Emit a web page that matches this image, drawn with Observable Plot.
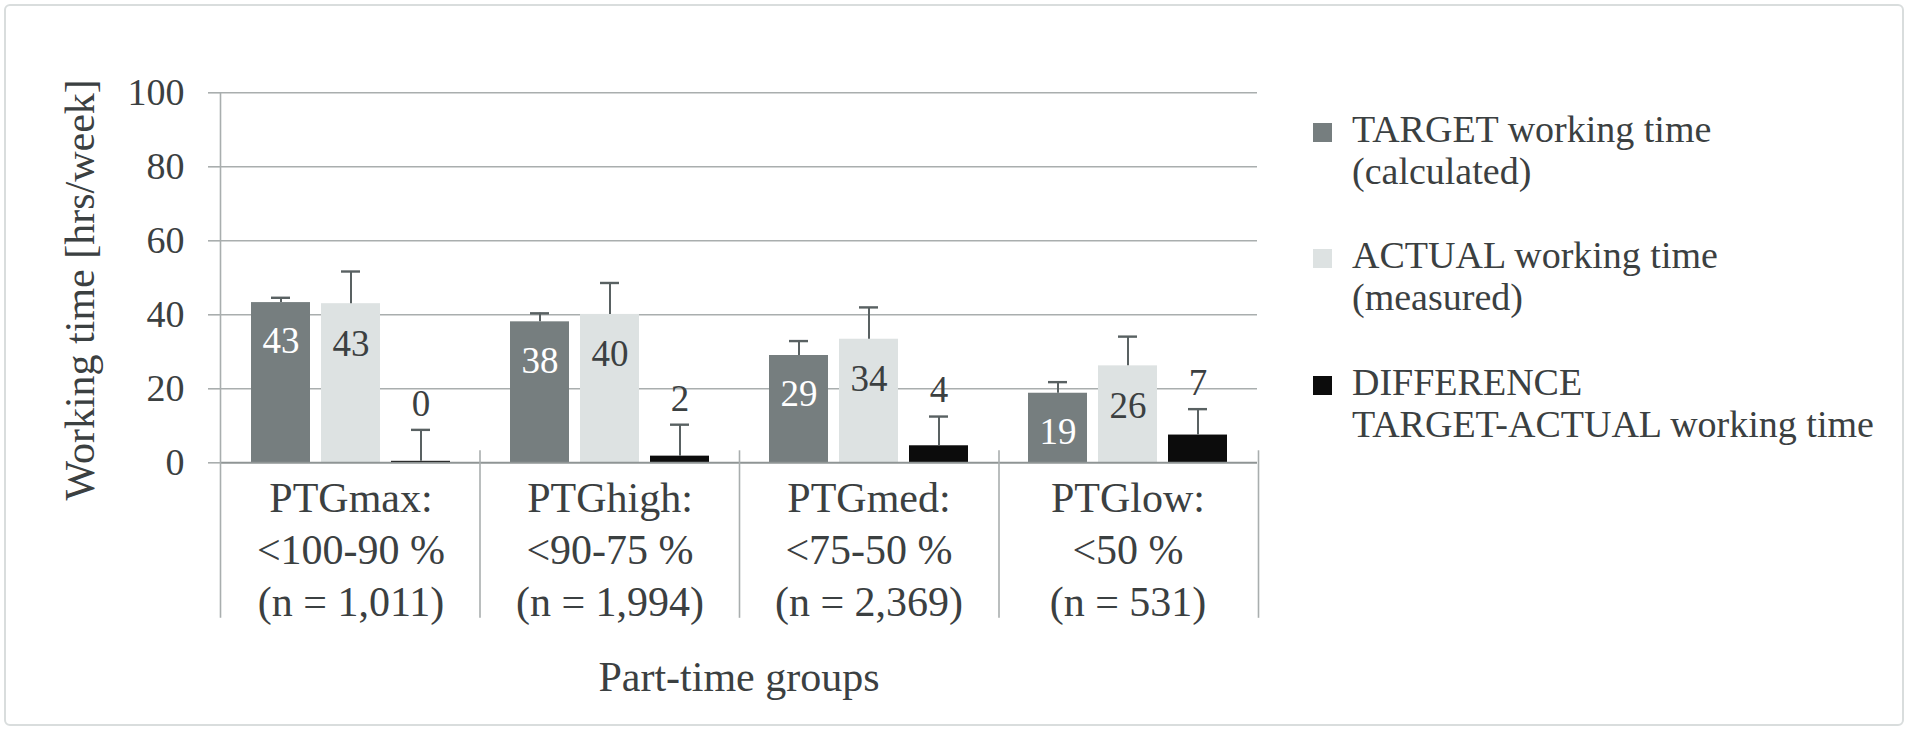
<!DOCTYPE html>
<html><head><meta charset="utf-8">
<script src="https://cdn.jsdelivr.net/npm/d3@7"></script>
<script src="https://cdn.jsdelivr.net/npm/@observablehq/plot@0.6"></script>
<style>
html,body{margin:0;padding:0;background:#fff;}
#wrap{position:relative;width:1908px;height:730px;overflow:hidden;font-family:"Liberation Serif","Times New Roman",serif;color:#3b4041;}
#border{position:absolute;left:4px;top:4px;width:1900px;height:722px;box-sizing:border-box;border:2px solid #d9dddd;border-radius:6px;}
#chart{position:absolute;left:0;top:0;}
.leg{position:absolute;left:1313px;font-size:38px;line-height:42px;}
.leg .sw{position:absolute;left:0;top:15px;width:19px;height:19px;}
.leg .tx{position:absolute;left:39px;top:0;white-space:pre;}
#xtitle{position:absolute;left:220px;width:1038px;top:656px;text-align:center;font-size:42px;line-height:42px;white-space:nowrap;}
</style></head>
<body>
<div id="wrap"><div id="border"></div><div id="chart"></div><div id="legend"></div><div id="xtitle"></div></div>
<script>
// ---- data ----
const groups = ["PTGmax:\n<100-90 %\n(n = 1,011)", "PTGhigh:\n<90-75 %\n(n = 1,994)", "PTGmed:\n<75-50 %\n(n = 2,369)", "PTGlow:\n<50 %\n(n = 531)"];
const seriesKeys = ["TARGET", "ACTUAL", "DIFFERENCE"];
const seriesNames = ["TARGET working time\n(calculated)", "ACTUAL working time\n(measured)", "DIFFERENCE\nTARGET-ACTUAL working time"];
const seriesColors = ["#767e7f", "#dde2e2", "#0c0c0c"];
const targetValues = [43.3, 38.1, 29.0, 18.8];
const actualValues = [43.0, 40.1, 33.4, 26.2];
const differenceValues = [0.4, 1.8, 4.6, 7.5];
const targetErrors = [1.3, 2.3, 3.9, 3.0];
const actualErrors = [8.7, 8.5, 8.6, 7.9];
const differenceErrors = [8.5, 8.5, 7.9, 7.0];
const targetLabels = ["43", "38", "29", "19"];
const actualLabels = ["43", "40", "34", "26"];
const differenceLabels = ["0", "2", "4", "7"];
const yTicks = [0, 20, 40, 60, 80, 100];
const yTitle = "Working time [hrs/week]";
const xTitle = "Part-time groups";

// ---- build table ----
const valuesBySeries = [targetValues, actualValues, differenceValues];
const errorsBySeries = [targetErrors, actualErrors, differenceErrors];
const labelsBySeries = [targetLabels, actualLabels, differenceLabels];
const rows = [];
groups.forEach((g, i) => seriesKeys.forEach((s, j) => rows.push({
  group: g, series: s, value: valuesBySeries[j][i], err: errorsBySeries[j][i], label: labelsBySeries[j][i]
})));
const whiskerTop = d => d.value + d.err;
const textColor = "#3b4041";
const gridColor = "#a9aeae";
const whisker = "#596162";

const chart = Plot.plot({
  width: 1908, height: 730,
  marginLeft: 220, marginRight: 650, marginTop: 92.3, marginBottom: 267.7,
  style: {fontFamily: "Liberation Serif, Times New Roman, serif", color: textColor, background: "transparent", overflow: "visible"},
  fx: {domain: groups, padding: 0, axis: null},
  x: {domain: seriesKeys, paddingInner: 0.157, paddingOuter: 0.417, axis: null},
  y: {domain: [0, 100]},
  color: {domain: seriesKeys, range: seriesColors},
  marks: [
    Plot.ruleY(yTicks.filter(t => t > 0), {stroke: gridColor, strokeWidth: 1.6}),
    Plot.axisY({ticks: yTicks, tickSize: 13, tickPadding: 24, fontSize: 38, stroke: gridColor, strokeWidth: 1.6, fill: textColor, label: null}),
    Plot.barY(rows, {fx: "group", x: "series", y: "value", fill: "series"}),
    Plot.ruleY([0], {stroke: "#8f9595", strokeWidth: 2}),
    Plot.ruleX(rows, {fx: "group", x: "series", y1: "value", y2: whiskerTop, stroke: whisker, strokeWidth: 2}),
    Plot.tickY(rows, {fx: "group", x: "series", y: whiskerTop, stroke: whisker, strokeWidth: 2.4, insetLeft: 20, insetRight: 20}),
    Plot.text(rows.filter(d => d.series === "TARGET"), {fx: "group", x: "series", y: "value", text: "label", dy: 39, fill: "white", fontSize: 37}),
    Plot.text(rows.filter(d => d.series === "ACTUAL"), {fx: "group", x: "series", y: "value", text: "label", dy: 40, fill: textColor, fontSize: 37}),
    Plot.text(rows.filter(d => d.series === "DIFFERENCE"), {fx: "group", x: "series", y: whiskerTop, text: "label", dy: -26, fill: textColor, fontSize: 37}),
    Plot.text(groups, {fx: d => d, text: d => d, frameAnchor: "bottom", lineAnchor: "top", dy: 12.9, lineHeight: 1.231, fontSize: 42, fill: textColor}),
    Plot.text([groups[0]], {fx: d => d, text: () => yTitle, frameAnchor: "left", textAnchor: "middle", rotate: -90, dx: -141, dy: 12, fontSize: 42, fill: textColor})
  ]
});
document.getElementById("chart").appendChild(chart);

// group dividers and the extended y axis line, positioned with the plot's own scales
const fxS = chart.scale("fx"), yS = chart.scale("y");
const fx = d3.scaleBand(fxS.domain, fxS.range).paddingInner(fxS.paddingInner || 0).paddingOuter(fxS.paddingOuter || 0).align(fxS.align ?? 0.5);
const y = d3.scaleLinear(yS.domain, yS.range);
const svg = d3.select(chart);
const lineBottom = y(0) + 155.5;
svg.append("line").attr("x1", fx(groups[0]) + 0.5).attr("x2", fx(groups[0]) + 0.5)
  .attr("y1", y(100)).attr("y2", lineBottom).attr("stroke", gridColor).attr("stroke-width", 1.6);
groups.forEach(g => {
  const xe = fx(g) + fx.bandwidth() + 0.5;
  svg.append("line").attr("x1", xe).attr("x2", xe).attr("y1", y(0) - 12).attr("y2", lineBottom)
    .attr("stroke", gridColor).attr("stroke-width", 1.6);
});

// legend
const legend = document.getElementById("legend");
const legendTops = [108, 234, 361];
seriesNames.forEach((name, i) => {
  const e = document.createElement("div");
  e.className = "leg";
  e.style.top = legendTops[i] + "px";
  const sw = document.createElement("div"); sw.className = "sw"; sw.style.background = seriesColors[i];
  const tx = document.createElement("div"); tx.className = "tx"; tx.textContent = name;
  e.appendChild(sw); e.appendChild(tx); legend.appendChild(e);
});
document.getElementById("xtitle").textContent = xTitle;
</script>
</body></html>
